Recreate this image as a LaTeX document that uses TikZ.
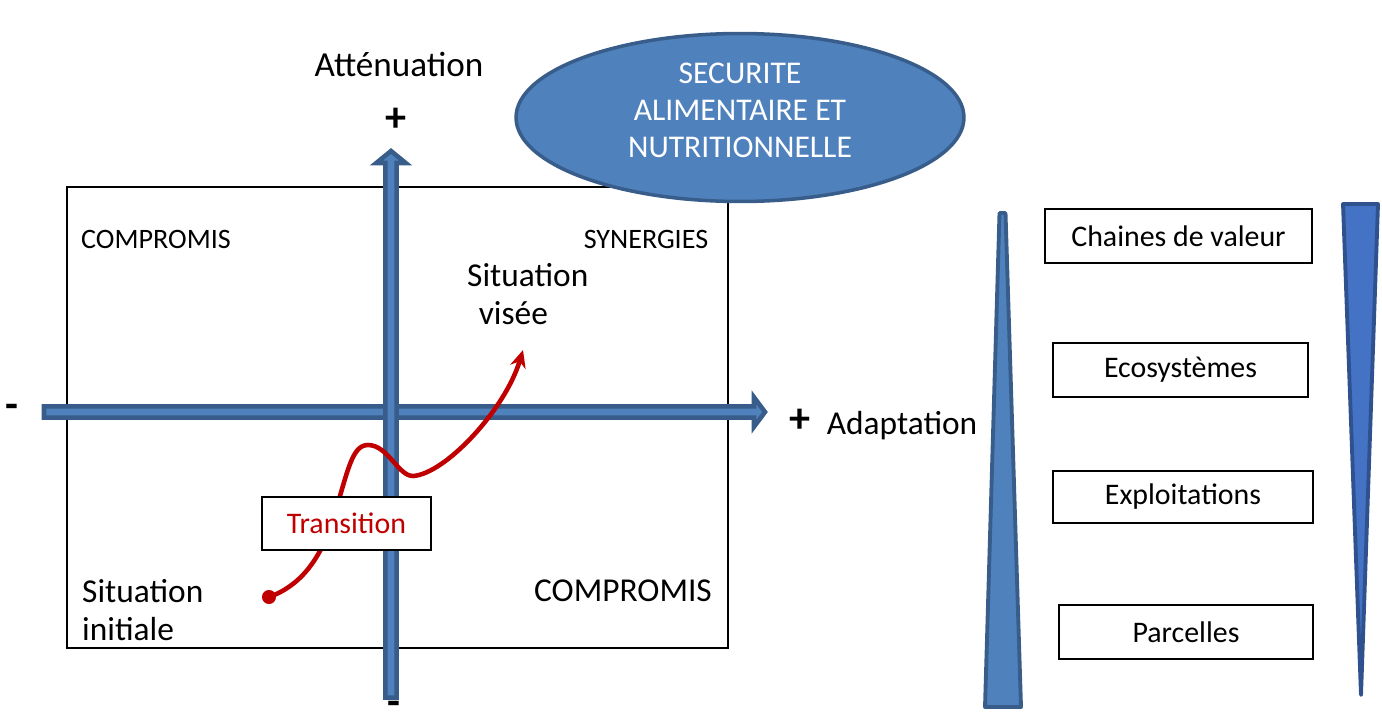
\documentclass[tikz,border=0pt]{standalone}
\usepackage{fontspec}
\setmainfont{Carlito}
\usetikzlibrary{arrows.meta,shapes.geometric}

\definecolor{axisfill}{HTML}{4F81BD}
\definecolor{axisline}{HTML}{385D8A}
\definecolor{conefill}{HTML}{4472C4}
\definecolor{coneline}{HTML}{2F528F}
\definecolor{transred}{HTML}{C00000}

\tikzset{
  axisarrow/.style={fill=axisfill,draw=axisline,line width=2.6pt,line join=miter},
  cone/.style={line width=2.2pt,line join=round},
  levelbox/.style={draw,line width=0.9pt,fill=white,inner sep=0pt,font=\fontsize{17}{20}\selectfont},
  quadlabel/.style={font=\fontsize{16}{19}\selectfont},
  biglabel/.style={font=\fontsize{19}{22}\selectfont,align=left},
  signlabel/.style={font=\fontsize{24}{24}\selectfont\bfseries},
  transcurve/.style={draw=transred,line width=2.6pt,-{Stealth[length=10pt,width=9pt]}},
}

\begin{document}
\begin{tikzpicture}[x=0.02cm,y=-0.02cm]
  \useasboundingbox (0,0) rectangle (1382,727);

  % quadrant frame
  \draw[line width=1pt] (67,187) rectangle (728,648);

  % axes
  \draw[axisarrow] (44,406.3) -- (754,406.3) -- (754,397.3) -- (765,412) -- (754,426.7)
    -- (754,417.7) -- (44,417.7) -- cycle;
  \draw[axisarrow] (385.3,697.7) -- (385.3,163) -- (376.3,163) -- (391,151) -- (405.7,163)
    -- (396.7,163) -- (396.7,697.7) -- cycle;

  \node[signlabel] (plustop) at (396,120) {+};
  \node[signlabel] (minusleft) at (12,411) {-};
  \node[signlabel,inner sep=0pt] (minusbot) at (394,708) {-};
  \node[signlabel] (plusright) at (800,421) {+};
  \node[font=\fontsize{20}{24}\selectfont] (attenuation) at (399,64) {Atténuation};
  \node[font=\fontsize{19}{22}\selectfont] (adaptation) at (902,426) {Adaptation};

  % quadrant texts
  \node[quadlabel] (comptop) at (156,239) {COMPROMIS};
  \node[quadlabel] (synergies) at (646,239) {SYNERGIES};
  \node[biglabel,anchor=north west] (visee) at (461,257) {Situation\\\hspace*{0.35em}visée};
  \node[biglabel,anchor=west] (initiale) at (76,610) {Situation\\initiale};
  \node[font=\fontsize{19}{22}\selectfont] (compbot) at (623,591) {COMPROMIS};

  % transition path
  \node[circle,fill=transred,inner sep=0pt,minimum size=8pt] (start) at (269,597) {};
  \coordinate (goal) at (523,350);
  \draw[transcurve] (start.center) .. controls (300,586) and (320,560) .. (333,520)
    .. controls (348,470) and (352,445) .. (368,445)
    .. controls (388,445) and (398,476) .. (413,476)
    .. controls (445,474) and (505,410) .. (goal);
  \node[levelbox,minimum width=3.38cm,minimum height=1.06cm,text=transred] (transition) at (346.5,523.5) {Transition};

  % food security
  \node[ellipse,fill=axisfill,draw=axisline,line width=2pt,minimum width=8.96cm,minimum height=3.36cm] (secu) at (740,117.5) {};
  \node[text=white,font=\fontsize{18}{21}\selectfont,align=center] (secutext) at (740,110) {SECURITE\\ALIMENTAIRE ET\\NUTRITIONNELLE};

  % scales
  \draw[cone,fill=axisfill,draw=axisline] (999.5,213) -- (1005.5,213) -- (1021,707) -- (985,707) -- cycle;
  \draw[cone,fill=conefill,draw=coneline] (1343,204) -- (1378,204) -- (1361,695) -- cycle;

  \node[levelbox,minimum width=5.34cm,minimum height=1.08cm] (chaines) at (1178.5,236) {Chaines de valeur};
  \node[levelbox,minimum width=5.10cm,minimum height=1.08cm] (ecosys) at (1180.5,370) {Ecosystèmes};
  \node[levelbox,minimum width=5.20cm,minimum height=1.04cm] (exploit) at (1183,497) {Exploitations};
  \node[levelbox,minimum width=5.08cm,minimum height=1.08cm] (parcelles) at (1186,632) {Parcelles};
\end{tikzpicture}
\end{document}
